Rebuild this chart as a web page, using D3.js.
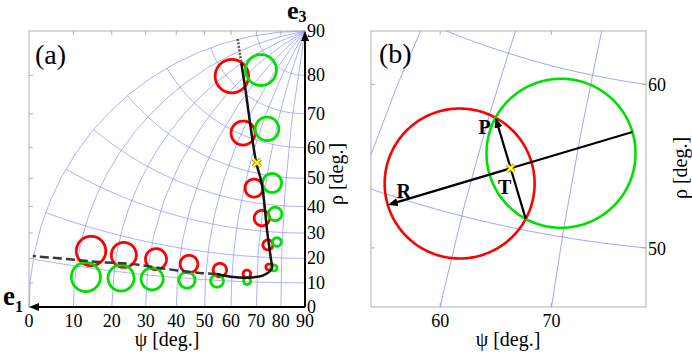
<!DOCTYPE html>
<html>
<head>
<meta charset="utf-8">
<script src="https://cdn.jsdelivr.net/npm/d3@7"></script>
<style>
  body { margin: 0; background: #fff; }
  svg text { font-family: "Liberation Serif", "DejaVu Serif", serif; }
</style>
</head>
<body>
<svg width="692" height="354" font-family="Liberation Serif, DejaVu Serif, serif"></svg>
<script>
// tick values, degrees
const psiTicks = [0, 10, 20, 30, 40, 50, 60, 70, 80, 90];
const rhoTicks = [0, 10, 20, 30, 40, 50, 60, 70, 80, 90];
const psiTicksB = [60, 70];
const rhoTicksB = [50, 60];

// cones in (a): [psi, rho, angular radius]
const redCones = [
  [23.8, 70.9, 3.92], [51.0, 60.5, 3.44], [64.7, 44.9, 3.06], [70.3, 34.8, 2.83],
  [73.9, 24.9, 1.94], [74.8, 16.2, 1.20], [13.1, 14.3, 3.72], [22.2, 14.9, 3.54],
  [32.2, 15.2, 3.30], [43.6, 15.0, 3.04], [55.2, 13.9, 2.50], [65.9, 13.1, 1.49]
];
const greenCones = [
  [37.0, 76.9, 3.65], [64.1, 64.0, 3.41], [73.1, 47.6, 3.24], [76.1, 36.8, 2.47],
  [77.7, 26.2, 1.68], [76.9, 15.9, 1.21], [12.8, 7.6, 3.67], [22.3, 8.3, 3.71],
  [31.7, 8.9, 3.47], [43.4, 9.4, 2.79], [54.4, 9.8, 2.36], [66.1, 10.3, 1.38]
];

// black locus [psi, rho]
const curveTop = [[-0.3, 75.9], [19.7, 74.5]];
const curveSolid = [[19.7, 74.5], [36.0, 71.4], [62.9, 53.5], [67.9, 47.1], [73.3, 29.5], [75.4, 19.8],
  [76.0, 15.6], [72.6, 12.8], [65.9, 11.6], [60.6, 11.6], [54.2, 12.4]];
const curveDashed = [[54.2, 12.4], [47.8, 12.3], [36.2, 12.5], [25.2, 12.7], [15.8, 11.9], [7.5, 11.3], [-0.2, 10.6]];
const tPoint = [63.4, 53.3];

// cones in (b)
const redConeB = [59.1, 51.8, 4.53];
const greenConeB = [68.4, 55.0, 4.51];

const RED = "#f00", GREEN = "#00e000", GRID = "#8c8cff", FRAME = "#b0b0b0";

const svg = d3.select("svg");
const defs = svg.append("defs");
defs.append("marker")
  .attr("id", "ah")
  .attr("viewBox", "0 0 10 8")
  .attr("refX", 2).attr("refY", 4)
  .attr("markerWidth", 10).attr("markerHeight", 8)
  .attr("markerUnits", "userSpaceOnUse")
  .attr("orient", "auto")
  .append("path").attr("d", "M0,0L10,4L0,8Z").attr("fill", "#000");

// grid lines on the sphere
const meridians = psiTicks.map(p => ({ type: "LineString", coordinates: [[p, 0], [p, 90]] }));
const parallels = rhoTicks.filter(r => r > 0 && r < 90)
  .map(r => ({ type: "LineString", coordinates: d3.range(0, 90.01, 1).map(p => [p, r]) }));

const cone = c => d3.geoCircle().center([c[0], c[1]]).radius(c[2]).precision(1)();

function cross(g, p, s) {
  const d = `M${p[0]-s},${p[1]-s}L${p[0]+s},${p[1]+s}M${p[0]-s},${p[1]+s}L${p[0]+s},${p[1]-s}`;
  g.append("path").attr("d", d).attr("stroke", "#8a7d00").attr("stroke-width", 3.6);
  g.append("path").attr("d", d).attr("stroke", "#ffff30").attr("stroke-width", 2);
}

// ---------- panel (a) ----------
const pa = d3.geoStereographic().rotate([-90, 0]).scale(276).translate([305, 307]);
const pathA = d3.geoPath(pa);
const e1 = pa([0, 0]), e2 = pa([90, 0]), e3 = pa([0, 90]);
const gA = svg.append("g");

gA.append("rect")
  .attr("x", e1[0]).attr("y", e3[1])
  .attr("width", e2[0] - e1[0]).attr("height", e2[1] - e3[1])
  .attr("fill", "none").attr("stroke", FRAME);

gA.selectAll(".ftx").data(psiTicks.slice(1, -1)).join("line")
  .attr("x1", d => pa([d, 0])[0]).attr("x2", d => pa([d, 0])[0])
  .attr("y1", e3[1]).attr("y2", e3[1] + 4).attr("stroke", FRAME);
gA.selectAll(".fty").data(rhoTicks.slice(1, -1)).join("line")
  .attr("y1", d => pa([90, d])[1]).attr("y2", d => pa([90, d])[1])
  .attr("x1", e1[0]).attr("x2", e1[0] + 4).attr("stroke", FRAME);

gA.selectAll(".grid").data(meridians.concat(parallels)).join("path")
  .attr("d", pathA).attr("fill", "none").attr("stroke", GRID).attr("stroke-width", 0.7);

gA.selectAll(".red").data(redCones).join("path")
  .attr("d", d => pathA(cone(d))).attr("fill", "none").attr("stroke", RED).attr("stroke-width", 2.8);
gA.selectAll(".green").data(greenCones).join("path")
  .attr("d", d => pathA(cone(d))).attr("fill", "none").attr("stroke", GREEN).attr("stroke-width", 2.8);

const lineA = d3.line().x(d => pa(d)[0]).y(d => pa(d)[1]).curve(d3.curveCatmullRom);
gA.append("path").attr("d", lineA(curveTop)).attr("fill", "none")
  .attr("stroke", "#555").attr("stroke-width", 2.5).attr("stroke-dasharray", "2,1.5");
gA.append("path").attr("d", lineA(curveSolid)).attr("fill", "none")
  .attr("stroke", "#111").attr("stroke-width", 2.5);
gA.append("path").attr("d", lineA(curveDashed)).attr("fill", "none")
  .attr("stroke", "#3a3a3a").attr("stroke-width", 2.5).attr("stroke-dasharray", "9,4");

// axes e2->e1 and e2->e3
gA.append("line").attr("x1", e2[0]).attr("y1", e2[1]).attr("x2", e1[0] + 8).attr("y2", e1[1])
  .attr("stroke", "#000").attr("stroke-width", 2).attr("marker-end", "url(#ah)");
gA.append("line").attr("x1", e2[0]).attr("y1", e2[1]).attr("x2", e3[0]).attr("y2", e3[1] + 8)
  .attr("stroke", "#000").attr("stroke-width", 2).attr("marker-end", "url(#ah)");

cross(gA, pa(tPoint), 3.8);

gA.selectAll(".xl").data(psiTicks).join("text")
  .attr("x", d => pa([d, 0])[0]).attr("y", 327)
  .attr("text-anchor", "middle").attr("font-size", 18).text(d => d);
gA.selectAll(".yl").data(rhoTicks).join("text")
  .attr("x", e2[0] + 2).attr("y", d => pa([90, d])[1] + 6)
  .attr("font-size", 18).text(d => d);

gA.append("text").attr("x", 167).attr("y", 346).attr("text-anchor", "middle")
  .attr("font-size", 20).text("ψ [deg.]");
gA.append("text").attr("transform", "translate(343,174) rotate(-90)").attr("text-anchor", "middle")
  .attr("font-size", 20).text("ρ [deg.]");
gA.append("text").attr("x", 35).attr("y", 64).attr("font-size", 28).text("(a)");

const eA = gA.append("text").attr("x", 3).attr("y", 305).attr("font-size", 27).attr("font-weight", "bold");
eA.append("tspan").text("e");
eA.append("tspan").attr("font-size", 16).attr("dy", 7).text("1");
const eB = gA.append("text").attr("x", 287).attr("y", 19).attr("font-size", 26).attr("font-weight", "bold");
eB.append("tspan").text("e");
eB.append("tspan").attr("font-size", 16).attr("dy", 3).text("3");

// ---------- panel (b) ----------
const bx0 = 371, bx1 = 646, by0 = 31, by1 = 307;
const pb = d3.geoStereographic().rotate([-90, 0]).scale(1450).translate([761.1, 929.5])
  .clipExtent([[bx0, by0], [bx1, by1]]);
const pathB = d3.geoPath(pb);
const gB = svg.append("g");

// where a meridian meets the bottom edge / a parallel meets the right edge
function bottomX(psi) {
  let lo = 0, hi = 90;
  for (let i = 0; i < 40; i++) { const m = (lo + hi) / 2; if (pb([psi, m])[1] > by1) lo = m; else hi = m; }
  return pb([psi, lo])[0];
}
function rightY(rho) {
  let lo = 0, hi = 90;
  for (let i = 0; i < 40; i++) { const m = (lo + hi) / 2; if (pb([m, rho])[0] < bx1) lo = m; else hi = m; }
  return pb([lo, rho])[1];
}

gB.append("rect").attr("x", bx0).attr("y", by0).attr("width", bx1 - bx0).attr("height", by1 - by0)
  .attr("fill", "none").attr("stroke", FRAME);
psiTicksB.forEach(d => {
  const x = bottomX(d);
  gB.append("line").attr("x1", x).attr("x2", x).attr("y1", by1).attr("y2", by1 - 4).attr("stroke", FRAME);
  gB.append("line").attr("x1", x).attr("x2", x).attr("y1", by0).attr("y2", by0 + 4).attr("stroke", FRAME);
  gB.append("text").attr("x", x).attr("y", 327).attr("text-anchor", "middle").attr("font-size", 18).text(d);
});
rhoTicksB.forEach(d => {
  const y = rightY(d);
  gB.append("line").attr("x1", bx0).attr("x2", bx0 + 4).attr("y1", y).attr("y2", y).attr("stroke", FRAME);
  gB.append("line").attr("x1", bx1).attr("x2", bx1 - 4).attr("y1", y).attr("y2", y).attr("stroke", FRAME);
  gB.append("text").attr("x", bx1 + 2).attr("y", y + 7).attr("font-size", 18).text(d);
});

gB.selectAll(".grid").data(meridians.concat(parallels)).join("path")
  .attr("d", pathB).attr("fill", "none").attr("stroke", GRID).attr("stroke-width", 0.8);

const redB = cone(redConeB), greenB = cone(greenConeB);
gB.append("path").attr("d", pathB(redB)).attr("fill", "none").attr("stroke", RED).attr("stroke-width", 2.6);
gB.append("path").attr("d", pathB(greenB)).attr("fill", "none").attr("stroke", GREEN).attr("stroke-width", 2.6);

// screen circles of the two cones, their chord and centre line
const scr = f => { const b = pathB.bounds(f); return [(b[0][0] + b[1][0]) / 2, (b[0][1] + b[1][1]) / 2, (b[1][0] - b[0][0]) / 2]; };
const cR = scr(redB), cG = scr(greenB);
const dd = Math.hypot(cG[0] - cR[0], cG[1] - cR[1]);
const u = [(cG[0] - cR[0]) / dd, (cG[1] - cR[1]) / dd];
const n = [u[1], -u[0]];
const a = (dd * dd + cR[2] * cR[2] - cG[2] * cG[2]) / (2 * dd);
const h = Math.sqrt(cR[2] * cR[2] - a * a);
const T = [cR[0] + a * u[0], cR[1] + a * u[1]];
const P = [T[0] + h * n[0], T[1] + h * n[1]];
const Q = [T[0] - h * n[0], T[1] - h * n[1]];
const R = [cR[0] - cR[2] * u[0], cR[1] - cR[2] * u[1]];
const Gf = [cG[0] + cG[2] * u[0], cG[1] + cG[2] * u[1]];

const shorten = (from, to, s) => {
  const L = Math.hypot(to[0] - from[0], to[1] - from[1]);
  return [to[0] - s * (to[0] - from[0]) / L, to[1] - s * (to[1] - from[1]) / L];
};
gB.append("line").attr("x1", Gf[0]).attr("y1", Gf[1]).attr("x2", T[0]).attr("y2", T[1])
  .attr("stroke", "#000").attr("stroke-width", 2.2);
const rEnd = shorten(T, R, 8);
gB.append("line").attr("x1", T[0]).attr("y1", T[1]).attr("x2", rEnd[0]).attr("y2", rEnd[1])
  .attr("stroke", "#000").attr("stroke-width", 2.2).attr("marker-end", "url(#ah)");
gB.append("line").attr("x1", Q[0]).attr("y1", Q[1]).attr("x2", T[0]).attr("y2", T[1])
  .attr("stroke", "#000").attr("stroke-width", 2.2);
const pEnd = shorten(T, P, 8);
gB.append("line").attr("x1", T[0]).attr("y1", T[1]).attr("x2", pEnd[0]).attr("y2", pEnd[1])
  .attr("stroke", "#000").attr("stroke-width", 2.2).attr("marker-end", "url(#ah)");

cross(gB, T, 3.5);

gB.append("text").attr("x", P[0] - 11).attr("y", P[1] + 16).attr("text-anchor", "middle")
  .attr("font-size", 20).attr("font-weight", "bold").text("P");
gB.append("text").attr("x", R[0] + 16).attr("y", R[1] - 7).attr("text-anchor", "middle")
  .attr("font-size", 20).attr("font-weight", "bold").text("R");
gB.append("text").attr("x", T[0] - 6).attr("y", T[1] + 26).attr("text-anchor", "middle")
  .attr("font-size", 20).attr("font-weight", "bold").text("T");

gB.append("text").attr("x", 508).attr("y", 346).attr("text-anchor", "middle")
  .attr("font-size", 20).text("ψ [deg.]");
gB.append("text").attr("transform", "translate(687,168) rotate(-90)").attr("text-anchor", "middle")
  .attr("font-size", 20).text("ρ [deg.]");
gB.append("text").attr("x", 379).attr("y", 63).attr("font-size", 28).text("(b)");
</script>
</body>
</html>
